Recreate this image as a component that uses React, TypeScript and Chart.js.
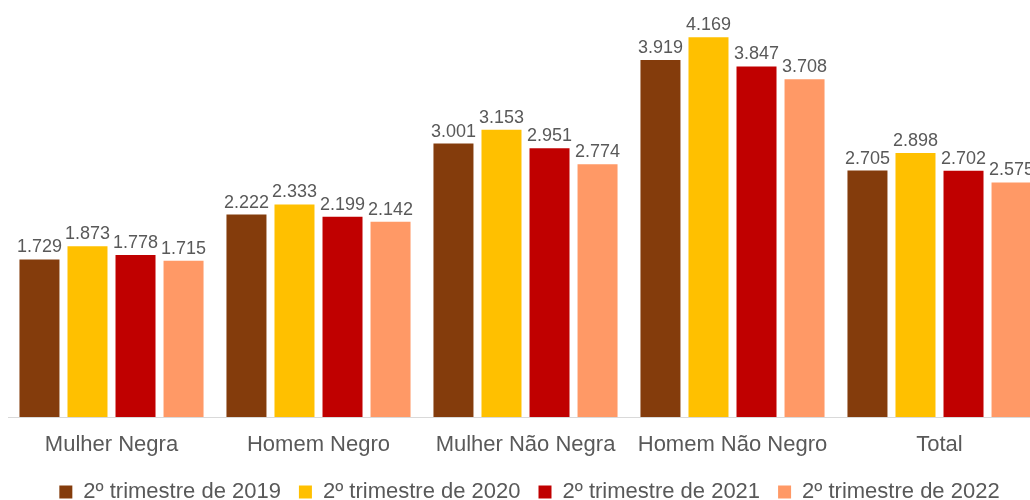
import React, { useEffect, useRef } from "react";
import { Chart, registerables } from "chart.js";

Chart.register(...registerables);

const categories = ["Mulher Negra", "Homem Negro", "Mulher Não Negra", "Homem Não Negro", "Total"];
const seriesNames = ["2º trimestre de 2019", "2º trimestre de 2020", "2º trimestre de 2021", "2º trimestre de 2022"];
const values2019 = [1729, 2222, 3001, 3919, 2705];
const values2020 = [1873, 2333, 3153, 4169, 2898];
const values2021 = [1778, 2199, 2951, 3847, 2702];
const values2022 = [1715, 2142, 2774, 3708, 2575];
const colors = ["#843C0C", "#FFC000", "#C00000", "#FF9966"];

const FONT = "'Liberation Sans', Arial, sans-serif";
const TEXT = "#595959";

function fmt(v: number): string {
  const th = Math.floor(v / 1000);
  const rest = String(v % 1000).padStart(3, "0");
  return th + "." + rest;
}

const labelPlugin = {
  id: "valueLabels",
  afterLayout(chart: any) {
    const lg = chart.legend;
    if (lg) {
      lg.left += 4;
      lg.right += 4;
    }
  },
  afterDatasetsDraw(chart: any) {
    const ctx = chart.ctx;
    ctx.save();
    ctx.font = `18px ${FONT}`;
    ctx.fillStyle = TEXT;
    ctx.textAlign = "center";
    ctx.textBaseline = "bottom";
    chart.data.datasets.forEach((ds: any, i: number) => {
      const meta = chart.getDatasetMeta(i);
      meta.data.forEach((el: any, j: number) => {
        ctx.fillText(fmt(ds.data[j]), el.x, el.y - 3);
      });
    });
    ctx.restore();
  },
};

export default function App() {
  const ref = useRef<HTMLCanvasElement | null>(null);
  useEffect(() => {
    if (!ref.current) return;
    const all = [values2019, values2020, values2021, values2022];
    const chart = new Chart(ref.current, {
      type: "bar",
      data: {
        labels: categories,
        datasets: all.map((d, i) => ({
          label: seriesNames[i],
          data: d,
          backgroundColor: colors[i],
          borderWidth: 0,
          categoryPercentage: 0.928,
          barPercentage: 0.833,
        })),
      },
      options: {
        animation: false,
        responsive: false,
        maintainAspectRatio: false,
        layout: { padding: { left: 8, right: 3, top: 7, bottom: 0 } },
        plugins: {
          legend: {
            position: "bottom",
            labels: {
              font: { family: FONT, size: 22 },
              color: TEXT,
              boxWidth: 13,
              boxHeight: 13,
              padding: 18,
            },
          },
          tooltip: { enabled: false },
        },
        scales: {
          x: {
            grid: { display: false, drawTicks: false },
            border: { display: true, color: "#D9D9D9", width: 1 },
            ticks: { font: { family: FONT, size: 22 }, color: TEXT, padding: 15 },
            afterFit: (scale: any) => {
              scale.height = 46;
            },
          },
          y: {
            display: false,
            min: 0,
            max: 4500,
          },
        },
      },
      plugins: [labelPlugin],
    });
    return () => chart.destroy();
  }, []);
  return (
    <div style={{ position: "fixed", left: 0, top: 0, width: 1030, height: 500, overflow: "hidden", background: "#fff" }}>
      <canvas ref={ref} width={1046} height={513} style={{ display: "block" }} />
    </div>
  );
}
